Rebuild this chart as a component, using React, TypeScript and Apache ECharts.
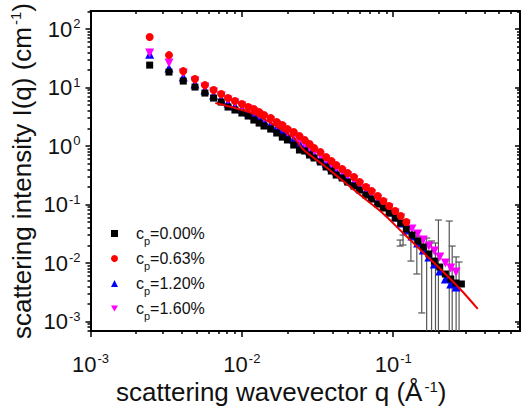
import { useEffect, useRef } from 'react';
import * as echarts from 'echarts';

// Scattering vector grid shared by the four samples (Å^-1)
const qValues = [
  0.00246, 0.0033, 0.0041, 0.0049, 0.0057, 0.0065, 0.0073, 0.0081, 0.009, 0.01,
  0.011, 0.012, 0.013, 0.014, 0.0155, 0.017, 0.0185, 0.02, 0.022, 0.024,
  0.026, 0.028, 0.03, 0.033, 0.036, 0.039, 0.042, 0.046, 0.05, 0.055,
  0.06, 0.066, 0.072, 0.079, 0.086, 0.094, 0.103, 0.112, 0.122, 0.133,
  0.145, 0.158, 0.172, 0.187, 0.203, 0.221, 0.24, 0.26, 0.282,
];

// Scattered intensity I(q), cm^-1
const intensityCp000 = [
  24.2, 18.4, 12.9, 10.2, 8.05, 6.61, 5.65, 4.64, 4.13, 3.67,
  3.26, 2.78, 2.47, 2.2, 1.95, 1.67, 1.42, 1.27, 1.04, 0.855,
  0.821, 0.702, 0.624, 0.533, 0.438, 0.374, 0.319, 0.284, 0.242, 0.207,
  0.177, 0.145, 0.124, 0.102, 0.0871, 0.0716, 0.0588, 0.0483, 0.0381, 0.0301,
  0.0238, 0.0188, 0.0143, 0.0108, 0.00854, 0.00649, 0.00533, 0.00455, 0.00438,
];
const intensityCp063 = [
  73.0, 35.9, 19.1, 14.0, 11.0, 9.06, 7.74, 6.61, 5.88, 5.22,
  4.64, 4.29, 3.81, 3.39, 3.01, 2.57, 2.29, 1.95, 1.74, 1.48,
  1.27, 1.08, 0.924, 0.79, 0.649, 0.554, 0.473, 0.404, 0.345, 0.295,
  0.242, 0.199, 0.17, 0.14, 0.115, 0.0943, 0.0774, 0.0636, 0.0502,
];
const intensityCp120 = [
  37.0, 21.5, 15.1, 11.5, 9.06, 7.44, 6.36, 5.43, 4.83, 4.29,
  3.81, 3.39, 3.01, 2.68, 2.38, 2.03, 1.8, 1.54, 1.32, 1.13,
  0.961, 0.821, 0.702, 0.6, 0.512, 0.438, 0.374, 0.319, 0.273, 0.233,
  0.191, 0.164, 0.134, 0.11, 0.0943, 0.0744, 0.0611, 0.0483, 0.0366, 0.0289,
  0.022, 0.0167, 0.0127, 0.00961, 0.0073, 0.00533, 0.00438, 0.00389,
];
const intensityCp160 = [
  38.9, 26.2, 17.7, 12.9, 10.2, 8.38, 7.16, 6.11, 5.43, 4.83,
  4.29, 3.81, 3.39, 3.01, 2.68, 2.29, 2.03, 1.74, 1.48, 1.27,
  1.08, 0.924, 0.79, 0.675, 0.576, 0.492, 0.421, 0.359, 0.307, 0.262,
  0.215, 0.184, 0.151, 0.124, 0.106, 0.0871, 0.0716, 0.0588, 0.0464, 0.0381,
  0.0313, 0.0247, 0.0195, 0.016, 0.0127, 0.01, 0.00821, 0.00702,
];

// Model fit curve
const fitQ = [0.00668, 0.009, 0.01214, 0.01638, 0.02209, 0.02566, 0.03459, 0.04665, 0.06291, 0.08486, 0.1144, 0.1543, 0.2081, 0.2806, 0.3618];
const fitI = [5.43, 4.47, 3.52, 2.29, 1.37, 0.855, 0.473, 0.252, 0.134, 0.0716, 0.0339, 0.016, 0.00759, 0.00345, 0.00164];

// Error bars at high q (a lower bound of 0 runs below the axis)
const errQ = [0.111, 0.1161, 0.1309, 0.1432, 0.1543, 0.1663, 0.1792, 0.1902, 0.1989, 0.2345, 0.2452, 0.2603, 0.2723];
const errLow = [0.0195, 0.0203, 0.0108, 0.00649, 0.0014, 0, 0, 0, 0, 0, 0, 0, 0];
const errHigh = [0.0247, 0.0301, 0.0326, 0.0289, 0.0278, 0.0268, 0.0238, 0.022, 0.0543, 0.0522, 0.0195, 0.0127, 0.0104];

const seriesNames = ['c_p=0.00%', 'c_p=0.63%', 'c_p=1.20%', 'c_p=1.60%'];
const xTickExponents = [-3, -2, -1];
const yTickExponents = [-3, -2, -1, 0, 1, 2];

const Q_MIN = 0.001;
const Q_MAX = 0.688;
const I_MIN = 6.88e-4;
const I_MAX = 203;

const lg = (v: number) => Math.log10(v);
const X_MIN = lg(Q_MIN);
const X_MAX = lg(Q_MAX);
const Y_MIN = lg(I_MIN);
const Y_MAX = lg(I_MAX);

const FONT = '"Liberation Sans", Arial, Helvetica, sans-serif';
const TEXT = '#111';

function minorLogTicks(lo: number, hi: number): number[] {
  const out: number[] = [];
  for (let n = Math.floor(lo); n < hi; n++) {
    for (let k = 2; k <= 9; k++) {
      const v = n + Math.log10(k);
      if (v > lo && v < hi) out.push(v);
    }
  }
  return out;
}

const toPoints = (qs: number[], is: number[]) => is.map((v, i) => [lg(qs[i]), lg(v)]);

const tickRich = {
  b: { fontSize: 22, fontFamily: FONT, color: TEXT, lineHeight: 16, verticalAlign: 'middle' },
  s: { fontSize: 13, fontFamily: FONT, color: TEXT, lineHeight: 16, padding: [0, 0, 11, 1], verticalAlign: 'middle' },
};
const powerLabel = (v: number) => `{b|10}{s|${Math.round(v)}}`;

const nameStyle = (padding: number[]) => ({
  fontSize: 26,
  fontFamily: FONT,
  color: TEXT,
  lineHeight: 24,
  padding,
  rich: {
    s: { fontSize: 15, fontFamily: FONT, color: TEXT, lineHeight: 24, padding: [0, 0, 12, 2], verticalAlign: 'middle' },
  },
});

const frameLine = { color: '#000', width: 2 };
const tickLine = { color: '#000', width: 1.5 };

function axis(min: number, max: number, position: string, ticks: number[], inside: boolean, length: number, showLine: boolean) {
  return {
    type: 'value',
    position,
    min,
    max,
    splitLine: { show: false },
    axisLine: { show: showLine, onZero: false, lineStyle: frameLine },
    axisTick: { show: true, inside, length, customValues: ticks, lineStyle: tickLine },
    axisLabel: { show: false },
  };
}

function buildOption() {
  const xMajor = xTickExponents;
  const yMajor = yTickExponents;
  const xMinor = minorLogTicks(X_MIN, X_MAX);
  const yMinor = minorLogTicks(Y_MIN, Y_MAX);

  const errData = errQ.map((q, i) => [
    lg(q),
    errLow[i] > 0 ? Math.max(lg(errLow[i]), Y_MIN) : Y_MIN,
    lg(errHigh[i]),
    errLow[i] > 0 && lg(errLow[i]) > Y_MIN ? 1 : 0,
  ]);

  const downTriangle = 'path://M0,0 L10,0 L5,8.66 Z';
  const solid = (color: string) => ({ color, opacity: 1 });

  return {
    animation: false,
    backgroundColor: '#fff',
    grid: { left: 83, right: 6, top: 11, bottom: 85 },
    xAxis: [
      {
        ...axis(X_MIN, X_MAX, 'bottom', xMajor, false, 6, true),
        axisLabel: { show: true, customValues: xMajor, formatter: powerLabel, margin: 25, rich: tickRich },
        name: 'scattering wavevector q (Å{s|-1})',
        nameLocation: 'middle',
        nameGap: 49,
        nameMoveOverlap: false,
        nameTextStyle: nameStyle([0, 48, 0, 0]),
      },
      axis(X_MIN, X_MAX, 'bottom', xMinor, false, 3, false),
      axis(X_MIN, X_MAX, 'top', xMajor, true, 6, true),
      axis(X_MIN, X_MAX, 'top', xMinor, true, 3, false),
    ],
    yAxis: [
      {
        ...axis(Y_MIN, Y_MAX, 'left', yMajor, false, 5, true),
        axisLabel: { show: true, customValues: yMajor, formatter: powerLabel, margin: 10, rich: tickRich },
        name: 'scattering intensity I(q) (cm{s|-1})',
        nameLocation: 'middle',
        nameGap: 57,
        nameMoveOverlap: false,
        nameTextStyle: nameStyle([0, 0, 0, 0]),
      },
      axis(Y_MIN, Y_MAX, 'left', yMinor, false, 3, false),
      axis(Y_MIN, Y_MAX, 'right', yMajor, true, 5, true),
      axis(Y_MIN, Y_MAX, 'right', yMinor, true, 3, false),
    ],
    legend: {
      data: seriesNames,
      orient: 'vertical',
      left: 111,
      top: 221,
      padding: 0,
      itemWidth: 7,
      itemHeight: 7,
      itemGap: 0,
      selectedMode: false,
      formatter: (name: string) => `{c|c}{p|p}{t|${name.slice(3)}}`,
      textStyle: {
        fontFamily: FONT,
        fontSize: 16,
        color: TEXT,
        lineHeight: 18,
        rich: {
          c: { fontFamily: FONT, fontSize: 16, color: TEXT, lineHeight: 18, padding: [0, 0, 0, 13], verticalAlign: 'middle' },
          p: { fontFamily: FONT, fontSize: 11, color: TEXT, lineHeight: 18, padding: [14, 0, 0, 0], verticalAlign: 'middle' },
          t: { fontFamily: FONT, fontSize: 16, color: TEXT, lineHeight: 18, verticalAlign: 'middle' },
        },
      },
    },
    series: [
      {
        type: 'custom',
        name: 'error bars',
        silent: true,
        data: errData,
        encode: { x: 0, y: [1, 2] },
        renderItem: (_params: any, api: any) => {
          const x = api.value(0);
          const top = api.coord([x, api.value(2)]);
          const bottom = api.coord([x, api.value(1)]);
          const hw = 3.5;
          const style = { stroke: '#555', lineWidth: 1.2 };
          const children: any[] = [
            { type: 'line', shape: { x1: top[0], y1: top[1], x2: bottom[0], y2: bottom[1] }, style },
            { type: 'line', shape: { x1: top[0] - hw, y1: top[1], x2: top[0] + hw, y2: top[1] }, style },
          ];
          if (api.value(3) === 1) {
            children.push({ type: 'line', shape: { x1: bottom[0] - hw, y1: bottom[1], x2: bottom[0] + hw, y2: bottom[1] }, style });
          }
          return { type: 'group', children };
        },
      },
      {
        type: 'scatter',
        name: seriesNames[2],
        symbol: 'triangle',
        symbolSize: 9,
        itemStyle: solid('#0000ff'),
        data: toPoints(qValues, intensityCp120),
      },
      {
        type: 'scatter',
        name: seriesNames[3],
        symbol: downTriangle,
        symbolSize: 9,
        itemStyle: solid('#ff00ff'),
        data: toPoints(qValues, intensityCp160),
      },
      {
        type: 'scatter',
        name: seriesNames[0],
        symbol: 'rect',
        symbolSize: 7,
        itemStyle: solid('#000'),
        data: toPoints(qValues, intensityCp000),
      },
      {
        type: 'scatter',
        name: seriesNames[1],
        symbol: 'circle',
        symbolSize: 8,
        itemStyle: solid('#ff0000'),
        data: toPoints(qValues, intensityCp063),
      },
      {
        type: 'line',
        name: 'fit',
        data: toPoints(fitQ, fitI),
        showSymbol: false,
        smooth: 0.3,
        lineStyle: { color: '#ee0000', width: 2 },
        itemStyle: { color: '#ee0000' },
      },
    ],
  };
}

export default function App() {
  const ref = useRef<HTMLDivElement>(null);
  useEffect(() => {
    if (!ref.current) return;
    const chart = echarts.init(ref.current, null, { renderer: 'svg' });
    chart.setOption(buildOption() as any);
    return () => chart.dispose();
  }, []);
  return (
    <div
      ref={ref}
      style={{ position: 'fixed', left: 0, top: 0, width: 526, height: 416, background: '#fff' }}
    />
  );
}
